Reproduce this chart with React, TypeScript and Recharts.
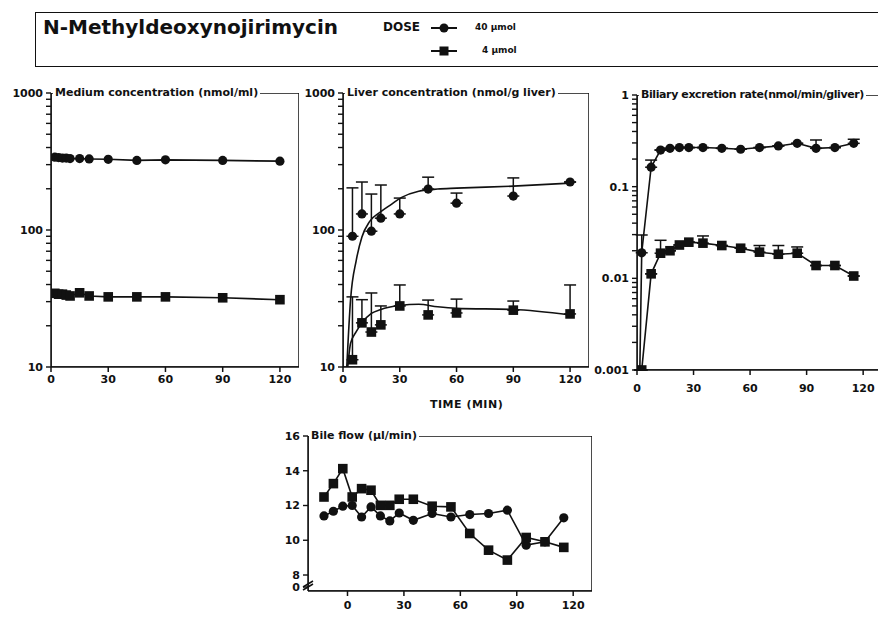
import React from 'react';
import { ComposedChart, Line, Scatter, XAxis, YAxis, ErrorBar, ReferenceArea } from 'recharts';

const FONT = '"DejaVu Sans", "Liberation Sans", sans-serif';
const INK = '#111';

// Medium concentration (nmol/ml)
const medTime = [2, 4, 6, 8, 10, 15, 20, 30, 45, 60, 90, 120];
const med40 = [340, 338, 335, 335, 332, 332, 330, 328, 322, 325, 322, 318];
const med4 = [34.5, 34, 34, 33.5, 33, 34.8, 33, 32.5, 32.5, 32.5, 32, 31];

// Liver concentration (nmol/g liver): points, top of error bar
const liverTime = [5, 10, 15, 20, 30, 45, 60, 90, 120];
const liver40 = [90, 131, 98, 122, 131, 199, 157, 177, 224];
const liver40Top = [203, 224, 183, 213, 171, 243, 186, 240, 224];
const liver4 = [11.3, 21, 18, 20.3, 27.9, 24, 24.8, 26, 24.4];
const liver4Top = [32.5, 31, 34.7, 27.9, 39.7, 30.8, 31.3, 30.3, 39.7];

// fitted curves as drawn
const fit40Time = [2, 4, 7, 10, 14, 20, 25, 31, 40, 50, 60, 90, 120];
const fit40 = [10, 31, 60, 89, 115, 136, 152, 173, 192, 199, 202, 209, 220];
const fit4Time = [2.5, 4, 7, 10, 15, 20, 30, 40, 50, 60, 90, 120];
const fit4 = [10, 14.9, 18.1, 21, 24.6, 26.3, 28.1, 28.7, 27.5, 26.8, 26.3, 24];

// Biliary excretion rate (nmol/min/g liver)
const bil40Time = [1.5, 2.5, 7.5, 12.5, 17.5, 22.5, 27.5, 35, 45, 55, 65, 75, 85, 95, 105, 115];
const bil40 = [0.001, 0.019, 0.163, 0.251, 0.262, 0.267, 0.267, 0.267, 0.262, 0.256, 0.267, 0.278, 0.297, 0.262, 0.267, 0.297];
const bil40Top = [0, 0.0297, 0.195, 0, 0, 0, 0, 0, 0, 0, 0, 0, 0, 0.323, 0, 0.329];
const bil4Time = [2.5, 7.5, 12.5, 17.5, 22.5, 27.5, 35, 45, 55, 65, 75, 85, 95, 105, 115];
const bil4 = [0.001, 0.0112, 0.0188, 0.02, 0.0231, 0.0248, 0.0242, 0.0228, 0.0213, 0.0193, 0.0183, 0.0188, 0.0138, 0.0138, 0.0106];
const bil4Top = [0, 0, 0.026, 0, 0, 0, 0.029, 0, 0, 0.0228, 0.0228, 0.022, 0, 0, 0];

// Bile flow (µl/min)
const bileTime = [-12.5, -7.5, -2.5, 2.5, 7.5, 12.5, 17.5, 22.5, 27.5, 35, 45, 55, 65, 75, 85, 95, 105, 115];
const bile40 = [11.4, 11.67, 11.96, 12.0, 11.34, 11.92, 11.4, 11.11, 11.57, 11.15, 11.54, 11.34, 11.48, 11.54, 11.73, 9.72, 9.91, 11.29];
const bile4 = [12.49, 13.26, 14.12, 12.49, 12.97, 12.88, 12.01, 12.01, 12.36, 12.36, 11.96, 11.92, 10.39, 9.43, 8.86, 10.16, 9.91, 9.59];

const timeTicks = [0, 30, 60, 90, 120];
const concTicks = [10, 20, 30, 40, 50, 60, 70, 80, 90, 100, 200, 300, 400, 500, 600, 700, 800, 900, 1000];
const concLabels = [10, 100, 1000];
const rateTicks = [
  0.001, 0.002, 0.003, 0.004, 0.005, 0.006, 0.007, 0.008, 0.009,
  0.01, 0.02, 0.03, 0.04, 0.05, 0.06, 0.07, 0.08, 0.09,
  0.1, 0.2, 0.3, 0.4, 0.5, 0.6, 0.7, 0.8, 0.9, 1,
];
const rateLabels = [0.001, 0.01, 0.1, 1];
const flowTicks = [7.31, 8, 10, 12, 14, 16];

const pts = (t: number[], v: number[]) => t.map((x, i) => ({ t: x, v: v[i] }));
const ptsErr = (t: number[], v: number[], top: number[]) =>
  t.map((x, i) => ({ t: x, v: v[i], err: [0, Math.max(0, top[i] - v[i])] }));

const CircleDot = (p: any) =>
  p.cx == null ? null : <circle key={`c${p.index}`} cx={p.cx} cy={p.cy} r={4.6} fill={INK} />;
const SquareDot = (p: any) =>
  p.cx == null ? null : (
    <rect key={`s${p.index}`} x={p.cx - 4.8} y={p.cy - 4.8} width={9.6} height={9.6} fill={INK} />
  );

const textProps = { fill: INK, fontSize: 11, fontWeight: 700, fontFamily: FONT };

// ticks drawn by hand so the tick marks show next to the labels
const XTick = (gap: number) => (p: any) => (
  <g>
    <line x1={p.x} y1={p.y} x2={p.x} y2={p.y + 5} stroke={INK} strokeWidth={1.5} />
    <text x={p.x} y={p.y + gap} dy="0.71em" textAnchor="middle" {...textProps}>{p.payload.value}</text>
  </g>
);
const YTick = (labels: (v: number) => string) => (p: any) => (
  <g>
    <line x1={p.x - 5} y1={p.y} x2={p.x} y2={p.y} stroke={INK} strokeWidth={1.4} />
    <text x={p.x - 8} y={p.y} dy="0.36em" textAnchor="end" {...textProps}>{labels(p.payload.value)}</text>
  </g>
);

const frame = (xd: number[], yd: number[]) => (
  <ReferenceArea x1={xd[0]} x2={xd[1]} y1={yd[0]} y2={yd[1]} fill="none" fillOpacity={0}
    stroke={INK} strokeWidth={1.5} ifOverflow="hidden" />
);

const xAxis = (domain: number[], gap = 8) => (
  <XAxis dataKey="t" type="number" domain={domain} ticks={timeTicks} allowDataOverflow interval={0}
    tick={XTick(gap)} tickLine={false} tickSize={0} tickMargin={0} height={30} stroke={INK} strokeWidth={1.5} />
);

const Title = ({ x, y, text, spacing = 0 }: { x: number; y: number; text: string; spacing?: number }) => (
  <div style={{ position: 'absolute', left: x, top: y - 7, background: '#fff', fontFamily: FONT, fontWeight: 700, fontSize: 11, letterSpacing: spacing, lineHeight: '14px', padding: '0 2px', color: INK, whiteSpace: 'nowrap' }}>
    {text}
  </div>
);

const LegendMark = ({ square }: { square?: boolean }) => (
  <svg width={26} height={12} style={{ position: 'absolute', left: 0, top: 0 }}>
    <line x1={0} y1={6} x2={26} y2={6} stroke={INK} strokeWidth={2} />
    {square ? <rect x={8.5} y={1.5} width={9} height={9} fill={INK} /> : <circle cx={13} cy={6} r={4.5} fill={INK} />}
  </svg>
);

const concLabel = (v: number) => (concLabels.includes(v) ? String(v) : '');
const rateLabel = (v: number) => (rateLabels.includes(v) ? String(v) : '');
const flowLabel = (v: number) => (v < 7.5 ? '0' : String(v));

export default function App() {
  return (
    <div style={{ position: 'absolute', left: 0, top: 0, width: 878, height: 618, overflow: 'hidden', background: '#fff', fontFamily: FONT }}>
      {/* header */}
      <div style={{ position: 'absolute', left: 35, top: 12, width: 900, height: 53, border: `1.5px solid ${INK}` }} />
      <div style={{ position: 'absolute', left: 43, top: 15, fontSize: 20, fontWeight: 700, color: INK, whiteSpace: 'nowrap' }}>N-Methyldeoxynojirimycin</div>
      <div style={{ position: 'absolute', left: 383, top: 20, fontSize: 12, fontWeight: 700, color: INK }}>DOSE</div>
      <div style={{ position: 'absolute', left: 431, top: 22, width: 26, height: 12 }}><LegendMark /></div>
      <div style={{ position: 'absolute', left: 475, top: 22, fontSize: 9, fontWeight: 700, color: INK, whiteSpace: 'nowrap' }}>40 µmol</div>
      <div style={{ position: 'absolute', left: 431, top: 45, width: 26, height: 12 }}><LegendMark square /></div>
      <div style={{ position: 'absolute', left: 482, top: 45, fontSize: 9, fontWeight: 700, color: INK, whiteSpace: 'nowrap' }}>4 µmol</div>

      {/* medium concentration */}
      <div style={{ position: 'absolute', left: 0, top: 80 }}>
        <ComposedChart width={310} height={320} margin={{ top: 13, right: 11, bottom: 3, left: 0 }}>
          {xAxis([0, 130])}
          <YAxis type="number" scale="log" domain={[10, 1000]} allowDataOverflow ticks={concTicks} interval={0}
            tick={YTick(concLabel)} tickLine={false} tickSize={0} tickMargin={0} width={51} stroke={INK} strokeWidth={1.5} />
          {frame([0, 130], [10, 1000])}
          <Line data={pts(medTime, med40)} dataKey="v" type="linear" stroke={INK} strokeWidth={1.6} dot={CircleDot} activeDot={false} isAnimationActive={false} />
          <Line data={pts(medTime, med4)} dataKey="v" type="linear" stroke={INK} strokeWidth={1.6} dot={SquareDot} activeDot={false} isAnimationActive={false} />
        </ComposedChart>
      </div>
      <Title x={53} y={93} text="Medium concentration (nmol/ml)" />

      {/* liver concentration */}
      <div style={{ position: 'absolute', left: 290, top: 80 }}>
        <ComposedChart width={310} height={320} margin={{ top: 13, right: 11, bottom: 3, left: 0 }}>
          {xAxis([0, 130])}
          <YAxis type="number" scale="log" domain={[10, 1000]} allowDataOverflow ticks={concTicks} interval={0}
            tick={YTick(concLabel)} tickLine={false} tickSize={0} tickMargin={0} width={53} stroke={INK} strokeWidth={1.5} />
          {frame([0, 130], [10, 1000])}
          <Line data={pts(fit40Time, fit40)} dataKey="v" type="monotone" stroke={INK} strokeWidth={1.6} dot={false} activeDot={false} isAnimationActive={false} />
          <Line data={pts(fit4Time, fit4)} dataKey="v" type="monotone" stroke={INK} strokeWidth={1.6} dot={false} activeDot={false} isAnimationActive={false} />
          <Scatter data={ptsErr(liverTime, liver40, liver40Top)} dataKey="v" shape={CircleDot} isAnimationActive={false}>
            <ErrorBar dataKey="err" direction="y" width={6} stroke={INK} strokeWidth={1.5} />
          </Scatter>
          <Scatter data={ptsErr(liverTime, liver4, liver4Top)} dataKey="v" shape={SquareDot} isAnimationActive={false}>
            <ErrorBar dataKey="err" direction="y" width={6} stroke={INK} strokeWidth={1.5} />
          </Scatter>
        </ComposedChart>
      </div>
      <Title x={345} y={93} text="Liver concentration (nmol/g liver)" />
      <div style={{ position: 'absolute', left: 430, top: 398, fontSize: 11, fontWeight: 700, letterSpacing: 0.5, color: INK, whiteSpace: 'nowrap' }}>TIME (MIN)</div>

      {/* biliary excretion rate */}
      <div style={{ position: 'absolute', left: 585, top: 80 }}>
        <ComposedChart width={300} height={325} margin={{ top: 15, right: 3, bottom: 5, left: 0 }}>
          {xAxis([0, 130], 14)}
          <YAxis type="number" scale="log" domain={[0.001, 1]} allowDataOverflow ticks={rateTicks} interval={0}
            tick={YTick(rateLabel)} tickLine={false} tickSize={0} tickMargin={0} width={52} stroke={INK} strokeWidth={1.5} />
          {frame([0, 130], [0.001, 1])}
          <Line data={ptsErr(bil40Time, bil40, bil40Top)} dataKey="v" type="linear" stroke={INK} strokeWidth={1.6} dot={CircleDot} activeDot={false} isAnimationActive={false}>
            <ErrorBar dataKey="err" direction="y" width={6} stroke={INK} strokeWidth={1.5} />
          </Line>
          <Line data={ptsErr(bil4Time, bil4, bil4Top)} dataKey="v" type="linear" stroke={INK} strokeWidth={1.6} dot={SquareDot} activeDot={false} isAnimationActive={false}>
            <ErrorBar dataKey="err" direction="y" width={6} stroke={INK} strokeWidth={1.5} />
          </Line>
        </ComposedChart>
      </div>
      <Title x={639} y={95} text="Biliary excretion rate(nmol/min/gliver)" spacing={-0.4} />

      {/* bile flow */}
      <div style={{ position: 'absolute', left: 260, top: 420 }}>
        <ComposedChart width={340} height={201} margin={{ top: 16, right: 8, bottom: 0, left: 0 }}>
          {xAxis([-21, 130], 10)}
          <YAxis type="number" domain={[7.08, 16]} allowDataOverflow ticks={flowTicks} interval={0}
            tick={YTick(flowLabel)} tickLine={false} tickSize={0} tickMargin={0} width={48} stroke={INK} strokeWidth={1.5} />
          {frame([-21, 130], [7.08, 16])}
          <Line data={pts(bileTime, bile40)} dataKey="v" type="linear" stroke={INK} strokeWidth={1.6} dot={CircleDot} activeDot={false} isAnimationActive={false} />
          <Line data={pts(bileTime, bile4)} dataKey="v" type="linear" stroke={INK} strokeWidth={1.6} dot={SquareDot} activeDot={false} isAnimationActive={false} />
        </ComposedChart>
      </div>
      <Title x={309} y={436} text="Bile flow (µl/min)" />
      <svg width={12} height={14} style={{ position: 'absolute', left: 302, top: 577 }}>
        <line x1={1} y1={10} x2={11} y2={4} stroke={INK} strokeWidth={1.5} />
        <line x1={1} y1={13} x2={11} y2={7} stroke={INK} strokeWidth={1.5} />
      </svg>
    </div>
  );
}
